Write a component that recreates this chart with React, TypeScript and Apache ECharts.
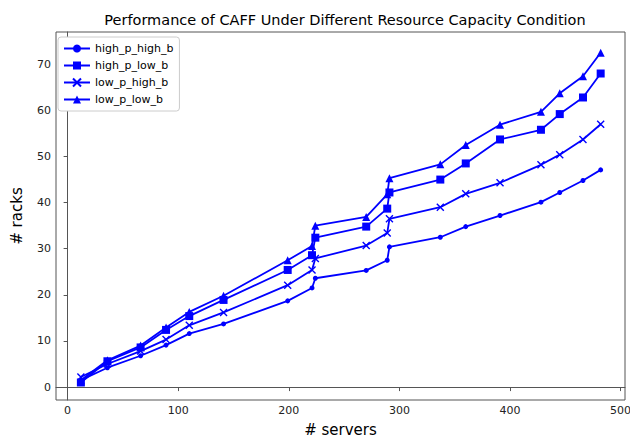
import React, { useEffect, useRef } from "react";
import * as echarts from "echarts";

const servers = [12, 36, 66, 89, 110, 141, 199, 221, 224, 270, 289, 291, 337, 360, 391, 428, 445, 466, 482];
const highPHighB = [1.5, 4.2, 6.8, 9.1, 11.6, 13.7, 18.7, 21.5, 23.6, 25.3, 27.5, 30.4, 32.5, 34.8, 37.2, 40.1, 42.2, 44.8, 47.1];
const highPLowB = [1.0, 5.6, 8.6, 12.4, 15.4, 18.9, 25.4, 28.6, 32.4, 34.8, 38.7, 42.2, 45.0, 48.5, 53.7, 55.8, 59.2, 62.8, 68.0];
const lowPHighB = [2.2, 5.0, 7.8, 10.3, 13.4, 16.2, 22.1, 25.4, 27.9, 30.7, 33.4, 36.5, 39.0, 41.9, 44.3, 48.2, 50.4, 53.7, 57.0];
const lowPLowB = [1.5, 5.8, 9.0, 12.9, 16.3, 19.8, 27.5, 30.6, 35.0, 36.9, 41.8, 45.3, 48.3, 52.5, 56.9, 59.7, 63.7, 67.4, 72.5];
const xTicks = [0, 100, 200, 300, 400, 500];
const yTicks = [0, 10, 20, 30, 40, 50, 60, 70];

const FONT = "DejaVu Sans";
const BLUE = "#0000ff";

export default function App() {
  const ref = useRef<HTMLDivElement>(null);
  useEffect(() => {
    document.body.style.margin = "0";
    const chart = echarts.init(ref.current!, null, { renderer: "svg" });
    const mk = (name: string, ys: number[], symbol: string, size: number) => ({
      name,
      type: "line",
      data: servers.map((x, i) => [x, ys[i]]),
      symbol,
      symbolSize: size,
      lineStyle: { color: BLUE, width: 1.8 },
      itemStyle: { color: BLUE, borderColor: BLUE, borderWidth: symbol.startsWith("path") ? 1.4 : 0 },
      emphasis: { disabled: true },
    });
    chart.setOption({
      animation: false,
      title: {
        text: "Performance of CAFF Under Different Resource Capacity Condition",
        left: 340,
        top: 7,
        textAlign: "center",
        textStyle: { fontFamily: FONT, fontSize: 14.5, fontWeight: "normal", color: "#000" },
      },
      legend: {
        orient: "vertical",
        left: 58,
        top: 37,
        itemWidth: 26,
        itemHeight: 10,
        itemGap: 6,
        padding: [6, 6, 6, 5],
        borderColor: "#cccccc",
        borderWidth: 1,
        borderRadius: 3,
        backgroundColor: "#ffffff",
        textStyle: { fontFamily: FONT, fontSize: 11, color: "#000" },
        data: ["high_p_high_b", "high_p_low_b", "low_p_high_b", "low_p_low_b"],
      },
      grid: {
        left: 56,
        right: 5,
        top: 32,
        bottom: 38,
        show: true,
        borderColor: "#555",
        borderWidth: 1,
        containLabel: false,
        outerBoundsMode: "none",
      },
      xAxis: {
        type: "value",
        min: -10.5,
        max: 504,
        name: "# servers",
        nameLocation: "middle",
        nameGap: 22,
        nameTextStyle: { fontFamily: FONT, fontSize: 15, color: "#000" },
        axisLine: { show: true, lineStyle: { color: "#555" } },
        axisTick: { show: true, length: 4, customValues: xTicks, lineStyle: { color: "#555" } },
        axisLabel: { customValues: xTicks, fontFamily: FONT, fontSize: 11, color: "#222", margin: 5 },
        splitLine: { show: false },
      },
      yAxis: {
        type: "value",
        min: -2.8,
        max: 77,
        name: "# racks",
        nameLocation: "middle",
        nameGap: 32,
        nameTextStyle: { fontFamily: FONT, fontSize: 15, color: "#000" },
        axisLine: { show: true, lineStyle: { color: "#555" } },
        axisTick: { show: true, length: 4, customValues: yTicks, lineStyle: { color: "#555" } },
        axisLabel: { customValues: yTicks, fontFamily: FONT, fontSize: 11, color: "#222", margin: 5 },
        splitLine: { show: false },
      },
      series: [
        mk("high_p_high_b", highPHighB, "circle", 5),
        mk("high_p_low_b", highPLowB, "rect", 8),
        mk("low_p_high_b", lowPHighB, "path://M0,0L10,10M10,0L0,10", 7),
        mk("low_p_low_b", lowPLowB, "triangle", 8),
      ],
    });
    return () => chart.dispose();
  }, []);
  return <div ref={ref} style={{ width: 630, height: 438, position: "absolute", left: 0, top: 0 }} />;
}
